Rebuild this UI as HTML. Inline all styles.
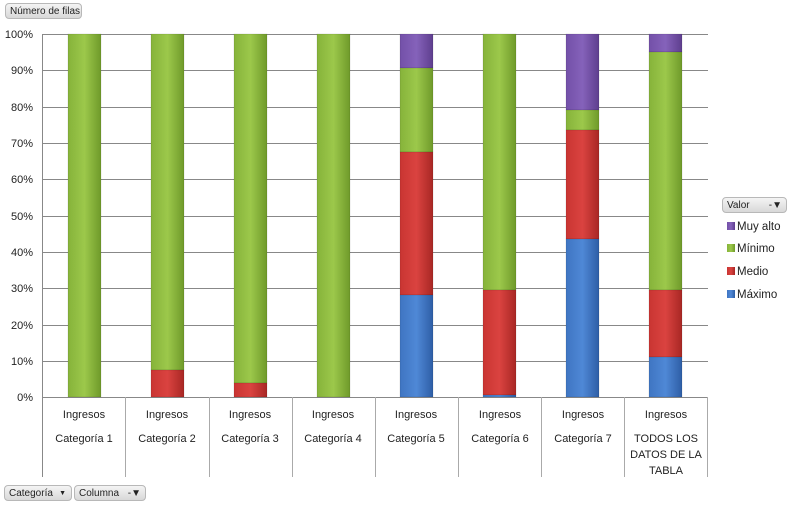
<!DOCTYPE html><html><head><meta charset="utf-8"><style>
body{margin:0;width:791px;height:505px;background:#fff;overflow:hidden;font-family:"Liberation Sans",sans-serif}
.btn{position:absolute;height:16px;border:1px solid #b8b8b8;border-radius:4px;background:linear-gradient(#f4f4f4,#d8d8d8);font-size:10px;line-height:15px;padding:0 4px;color:#222;box-sizing:border-box;white-space:nowrap;overflow:hidden}
</style></head><body>
<div class="btn" style="left:5px;top:3px;width:77px;">Número de filas</div>
<div class="btn" style="left:722px;top:197px;width:65px;">Valor<span style="position:absolute;right:4px;">-▼</span></div>
<div class="btn" style="left:4px;top:485px;width:68px;">Categoría<span style="position:absolute;right:5px;font-size:7px">▼</span></div>
<div class="btn" style="left:74px;top:485px;width:72px;">Columna<span style="position:absolute;right:4px;">-▼</span></div>
<svg width="791" height="505" style="position:absolute;left:0;top:0" font-family="Liberation Sans, sans-serif">
<defs>
<linearGradient id="g" x1="0" x2="1"><stop offset="0" stop-color="#86b33a"/><stop offset=".5" stop-color="#9cc84b"/><stop offset="1" stop-color="#6f9a2a"/></linearGradient>
<linearGradient id="r" x1="0" x2="1"><stop offset="0" stop-color="#c93532"/><stop offset=".5" stop-color="#da4340"/><stop offset="1" stop-color="#a82724"/></linearGradient>
<linearGradient id="b" x1="0" x2="1"><stop offset="0" stop-color="#3f75c2"/><stop offset=".5" stop-color="#4f88d6"/><stop offset="1" stop-color="#2e5ea6"/></linearGradient>
<linearGradient id="p" x1="0" x2="1"><stop offset="0" stop-color="#7350a8"/><stop offset=".5" stop-color="#8562ba"/><stop offset="1" stop-color="#5e3e8e"/></linearGradient>
</defs>
<g stroke="#888" stroke-width="1">
<line x1="42" y1="34.5" x2="708" y2="34.5"/><line x1="42" y1="70.5" x2="708" y2="70.5"/><line x1="42" y1="107.5" x2="708" y2="107.5"/><line x1="42" y1="143.5" x2="708" y2="143.5"/><line x1="42" y1="179.5" x2="708" y2="179.5"/><line x1="42" y1="216.5" x2="708" y2="216.5"/><line x1="42" y1="252.5" x2="708" y2="252.5"/><line x1="42" y1="288.5" x2="708" y2="288.5"/><line x1="42" y1="325.5" x2="708" y2="325.5"/><line x1="42" y1="361.5" x2="708" y2="361.5"/><line x1="42" y1="397.5" x2="708" y2="397.5"/>
<line x1="42.5" y1="34" x2="42.5" y2="477"/>
</g>
<g stroke="#aaa"><line x1="125.5" y1="397" x2="125.5" y2="477"/><line x1="209.5" y1="397" x2="209.5" y2="477"/><line x1="292.5" y1="397" x2="292.5" y2="477"/><line x1="375.5" y1="397" x2="375.5" y2="477"/><line x1="458.5" y1="397" x2="458.5" y2="477"/><line x1="541.5" y1="397" x2="541.5" y2="477"/><line x1="624.5" y1="397" x2="624.5" y2="477"/><line x1="707.5" y1="397" x2="707.5" y2="477"/></g>
<g font-size="11" fill="#222" text-anchor="end">
<text x="33" y="38">100%</text><text x="33" y="74">90%</text><text x="33" y="111">80%</text><text x="33" y="147">70%</text><text x="33" y="183">60%</text><text x="33" y="220">50%</text><text x="33" y="256">40%</text><text x="33" y="292">30%</text><text x="33" y="329">20%</text><text x="33" y="365">10%</text><text x="33" y="401">0%</text>
</g>
<g stroke-width=".5" stroke="rgba(0,0,0,.2)">
<rect x="68" y="34" width="33" height="363" fill="url(#g)"/>
<rect x="151" y="34" width="33" height="336" fill="url(#g)"/><rect x="151" y="370" width="33" height="27" fill="url(#r)"/>
<rect x="234" y="34" width="33" height="349" fill="url(#g)"/><rect x="234" y="383" width="33" height="14" fill="url(#r)"/>
<rect x="317" y="34" width="33" height="363" fill="url(#g)"/>
<rect x="400" y="34" width="33" height="34" fill="url(#p)"/><rect x="400" y="68" width="33" height="84" fill="url(#g)"/><rect x="400" y="152" width="33" height="143" fill="url(#r)"/><rect x="400" y="295" width="33" height="102" fill="url(#b)"/>
<rect x="483" y="34" width="33" height="256" fill="url(#g)"/><rect x="483" y="290" width="33" height="105" fill="url(#r)"/><rect x="483" y="395" width="33" height="2" fill="url(#b)"/>
<rect x="566" y="34" width="33" height="76" fill="url(#p)"/><rect x="566" y="110" width="33" height="20" fill="url(#g)"/><rect x="566" y="130" width="33" height="109" fill="url(#r)"/><rect x="566" y="239" width="33" height="158" fill="url(#b)"/>
<rect x="649" y="34" width="33" height="18" fill="url(#p)"/><rect x="649" y="52" width="33" height="238" fill="url(#g)"/><rect x="649" y="290" width="33" height="67" fill="url(#r)"/><rect x="649" y="357" width="33" height="40" fill="url(#b)"/>
</g>
<g font-size="11" fill="#222" text-anchor="middle">
<text x="84" y="418">Ingresos</text><text x="84" y="442">Categoría 1</text>
<text x="167" y="418">Ingresos</text><text x="167" y="442">Categoría 2</text>
<text x="250" y="418">Ingresos</text><text x="250" y="442">Categoría 3</text>
<text x="333" y="418">Ingresos</text><text x="333" y="442">Categoría 4</text>
<text x="416" y="418">Ingresos</text><text x="416" y="442">Categoría 5</text>
<text x="500" y="418">Ingresos</text><text x="500" y="442">Categoría 6</text>
<text x="583" y="418">Ingresos</text><text x="583" y="442">Categoría 7</text>
<text x="666" y="418">Ingresos</text><text x="666" y="442">TODOS LOS</text><text x="666" y="458">DATOS DE LA</text><text x="666" y="474">TABLA</text>
</g>
<g font-size="11.5" fill="#222">
<rect x="727" y="222" width="8" height="8" fill="url(#p)"/><text x="737" y="230">Muy alto</text>
<rect x="727" y="244" width="8" height="8" fill="url(#g)"/><text x="737" y="252">Mínimo</text>
<rect x="727" y="267" width="8" height="8" fill="url(#r)"/><text x="737" y="275">Medio</text>
<rect x="727" y="290" width="8" height="8" fill="url(#b)"/><text x="737" y="298">Máximo</text>
</g>
</svg>
</body></html>
